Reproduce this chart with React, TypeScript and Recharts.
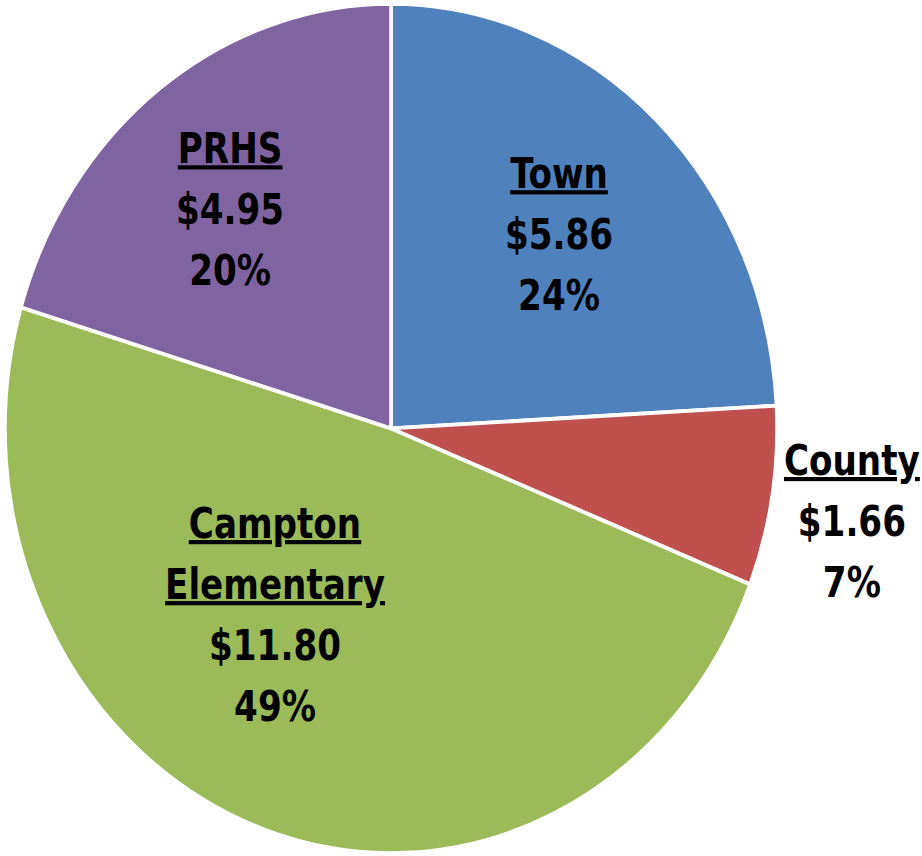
import { PieChart, Pie, Cell } from 'recharts';

const categories = ['Town', 'County', 'Campton Elementary', 'PRHS'];
const amounts = [5.86, 1.66, 11.8, 4.95];
const colors = ['#4F81BD', '#C0504D', '#9BBB59', '#8064A2'];

// label placement: radius factor and angle shift from the slice middle
const labelRadius = [0.714, 1.199, 0.396, 0.751];
const labelShift = [5.9, 4.0, -30.3, -3.0];

const data = categories.map((name, i) => ({ name, value: amounts[i] }));

const W = 922;
const STRETCH = 1.1;
const H = 779;
const RAD = Math.PI / 180;
const LINE = 55.5;

function renderLabel(props: any) {
  const { cx, cy, midAngle, outerRadius, index, percent, value, name } = props;
  const r = outerRadius * labelRadius[index];
  const a = (midAngle + labelShift[index]) * RAD;
  const x = cx + r * Math.cos(a);
  const y = cy - r * Math.sin(a);
  const nameLines = String(name).split(' ');
  return (
    <text
      x={x}
      y={y}
      textAnchor="middle"
      fill="#000"
      style={{ fontFamily: '"Liberation Sans Narrow", "DejaVu Sans Condensed", "Open Sans", sans-serif', fontWeight: 700, fontSize: 38 }}
    >
      {nameLines.map((ln, k) => (
        <tspan key={k} x={x} dy={k === 0 ? 0 : LINE} textDecoration="underline">{ln}</tspan>
      ))}
      <tspan x={x} dy={LINE}>${Number(value).toFixed(2)}</tspan>
      <tspan x={x} dy={LINE}>{Math.round(percent * 100)}%</tspan>
    </text>
  );
}

export default function App() {
  return (
    <div style={{ position: 'absolute', left: 0, top: 0, width: W, height: 856, overflow: 'hidden', background: '#fff' }}>
      <div style={{ transform: `scaleY(${STRETCH})`, transformOrigin: '0 0', width: W, height: H }}>
        <PieChart width={W} height={H} margin={{ top: 0, right: 0, bottom: 0, left: 0 }}>
          <Pie
            data={data}
            dataKey="value"
            nameKey="name"
            cx={391}
            cy={389.5}
            outerRadius={386}
            startAngle={90}
            endAngle={-270}
            stroke="#fff"
            strokeWidth={3.5}
            label={renderLabel}
            labelLine={false}
            isAnimationActive={false}
          >
            {data.map((d, i) => (
              <Cell key={d.name} fill={colors[i]} />
            ))}
          </Pie>
        </PieChart>
      </div>
    </div>
  );
}
